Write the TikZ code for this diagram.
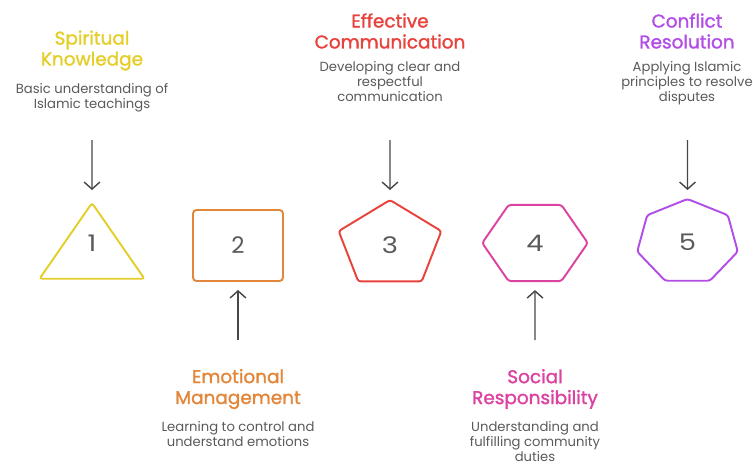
\documentclass[tikz,border=0pt]{standalone}
\usepackage{fontspec}
\setmainfont{Poppins}
\newfontfamily\titfont{Poppins}[FakeBold=1.5]
\usepackage{tikz}
\usetikzlibrary{arrows.meta,positioning,shapes.geometric}
\definecolor{spiyellow}{RGB}{228,206,42}
\definecolor{emoorange}{RGB}{226,134,58}
\definecolor{effred}{RGB}{232,66,60}
\definecolor{socpink}{RGB}{220,66,160}
\definecolor{conpurple}{RGB}{178,78,230}
\definecolor{txtgray}{RGB}{90,90,90}
\definecolor{arrgray}{RGB}{70,70,70}

\begin{document}
\begin{tikzpicture}[x=0.02cm, y=-0.02cm,
      tit/.style={inner sep=0pt, align=center,
                  font=\titfont\fontsize{10.5}{11.9}\selectfont},
      desc/.style={inner sep=0pt, align=center, text=txtgray,
                   font=\fontsize{7.5}{8.5}\selectfont},
      poly/.style={draw, regular polygon, line width=1.1pt,
                   inner sep=0pt, outer sep=0pt, rounded corners=1.5pt,
                   xscale=1.2, transform shape, text=txtgray,
                   font=\fontsize{13}{13}\selectfont},
      sqbox/.style={draw, rectangle, line width=1.1pt, rounded corners=2pt,
                    minimum width=1.8cm, minimum height=1.42cm,
                    outer sep=0pt, text=txtgray,
                    font=\fontsize{13}{13}\selectfont},
      arr/.style={-{Straight Barb[length=4pt,width=9pt]},
                  line width=0.8pt, color=arrgray}
  ]
    \useasboundingbox (0,0) rectangle (753,464);
    % shapes
    \node[shift={(92,253.5)}, poly, regular polygon sides=3,
          minimum size=2.02cm, draw=spiyellow] (s1) at (0,0)
          {\raisebox{0.2cm}[\height][\depth]{1}};
    \node[sqbox, draw=emoorange] (s2) at (238,245.5) {2};
    \node[shift={(390,245)}, poly, regular polygon sides=5,
          minimum size=1.8cm, draw=effred] (s3) at (0,0) {3};
    \node[shift={(535,243)}, poly, regular polygon sides=6,
          minimum size=1.76cm, draw=socpink] (s4) at (0,0) {4};
    \node[shift={(687.5,242)}, poly, regular polygon sides=7,
          minimum size=1.72cm, draw=conpurple] (s5) at (0,0) {5};
    % top labels
    \node[tit, text=spiyellow] (ti1) at (92,50.5) {Spiritual\\Knowledge};
    \node[desc, below=0.24cm of ti1] (de1) {Basic understanding of\\Islamic teachings};
    \node[tit, text=effred] (ti3) at (390,31) {Effective\\Communication};
    \node[desc, below=0.24cm of ti3] (de3) {Developing clear and\\respectful\\communication};
    \node[tit, text=conpurple] (ti5) at (687,31) {Conflict\\Resolution};
    \node[desc, below=0.24cm of ti5] (de5) {Applying Islamic\\principles to resolve\\disputes};
    % bottom labels
    \node[tit, text=emoorange] (ti2) at (238,389) {Emotional\\Management};
    \node[desc, below=0.24cm of ti2] (de2) {Learning to control and\\understand emotions};
    \node[tit, text=socpink] (ti4) at (535,389) {Social\\Responsibility};
    \node[desc, below=0.24cm of ti4] (de4) {Understanding and\\fulfilling community\\duties};
    % arrows
    \coordinate (p1) at (92,140);
    \coordinate (p3) at (390,140);
    \coordinate (p5) at (687.5,140);
    \coordinate (p2) at (238,340);
    \coordinate (p4) at (535,340);
    \draw[arr, shorten >=0.26cm] (p1) -- (s1.north);
    \draw[arr, shorten >=0.2cm] (p3) -- (s3.north);
    \draw[arr, shorten >=0.18cm] (p5) -- (s5.north);
    \draw[arr, shorten >=0.18cm] (p2) -- (s2.south);
    \draw[arr, shorten >=0.18cm] (p4) -- (s4.south);
  \end{tikzpicture}
\end{document}
